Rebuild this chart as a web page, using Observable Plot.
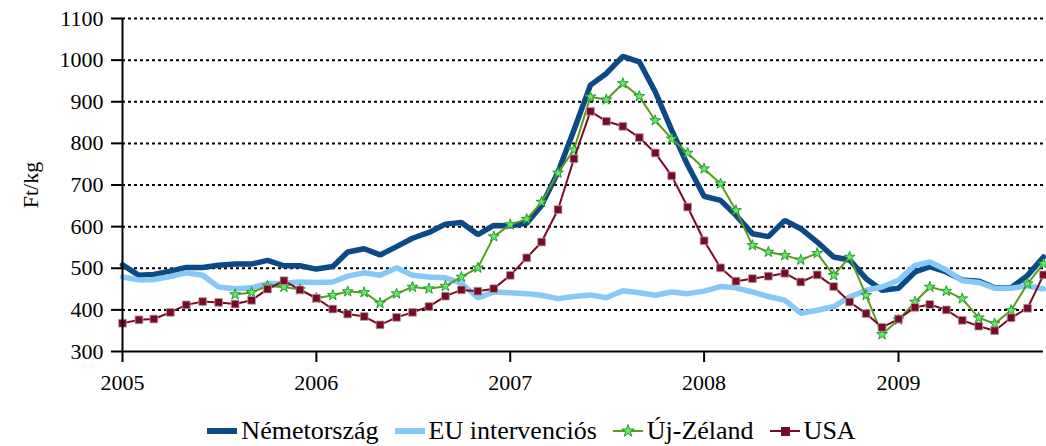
<!DOCTYPE html>
<html>
<head>
<meta charset="utf-8">
<script src="https://cdn.jsdelivr.net/npm/d3@7"></script>
<script src="https://cdn.jsdelivr.net/npm/@observablehq/plot@0.6"></script>
<style>
  html, body { margin: 0; padding: 0; background: #fff; }
  body { width: 1046px; height: 446px; overflow: hidden; font-family: "Liberation Serif", "Times New Roman", serif; }
  #chart svg, #chart svg text { font-family: "Liberation Serif", "Times New Roman", serif !important; }
  #legend { display: flex; justify-content: center; align-items: center; gap: 15px; height: 38px; font-size: 26px; padding-left: 16px; color: #000; font-family: "Liberation Serif", "Times New Roman", serif; }
  #legend .item { display: flex; align-items: center; gap: 3px; }
</style>
</head>
<body>
<div id="chart"></div>
<div id="legend"></div>
<script>
// Monthly categories: Jan 2005 – Oct 2009
const months = d3.utcMonths(new Date("2005-01-01"), new Date("2009-11-01"));
const yearTicks = ["2005", "2006", "2007", "2008", "2009"];
const yTicks = [300, 400, 500, 600, 700, 800, 900, 1000, 1100];
const seriesNames = ["Németország", "EU intervenciós", "Új-Zéland", "USA"];

const nemetorszag = [508, 483, 485, 493, 502, 502, 507, 510, 510, 519, 506, 506,
  498, 504, 539, 547, 532, 552, 572, 586, 606, 610, 581, 603,
  602, 608, 651, 731, 832, 940, 968, 1009, 996, 924, 832, 748,
  673, 663, 627, 583, 576, 615, 595, 563, 527, 520, 475, 447,
  452, 491, 504, 491, 472, 469, 453, 453, 483, 527];
const euIntervencios = [479, 472, 473, 480, 489, 483, 455, 451, 453, 463, 464, 467,
  466, 467, 481, 489, 483, 501, 483, 479, 477, 464, 429, 443,
  441, 439, 435, 427, 432, 436, 429, 446, 441, 435, 443, 439,
  445, 456, 453, 443, 432, 423, 392, 399, 408, 431, 447, 455,
  471, 507, 515, 496, 470, 466, 452, 452, 458, 450];
const ujZeland = [null, null, null, null, null, null, null, 437, 442, 457, 455, 449,
  428, 435, 444, 442, 416, 439, 455, 451, 457, 479, 501, 576,
  605, 618, 659, 729, 785, 912, 905, 944, 913, 855, 811, 777,
  739, 703, 639, 555, 539, 531, 520, 536, 483, 527, 435, 341,
  376, 419, 455, 445, 427, 381, 367, 399, 463, 511];
const usa = [368, 376, 378, 394, 412, 420, 418, 414, 423, 450, 470, 448,
  428, 402, 390, 384, 364, 382, 394, 408, 433, 448, 445, 451,
  483, 525, 563, 641, 763, 877, 853, 841, 814, 777, 722, 647,
  566, 501, 469, 475, 481, 488, 467, 484, 456, 419, 391, 358,
  378, 406, 413, 400, 375, 361, 350, 381, 404, 484];

const colors = {
  de: "#0b4a86",
  eu: "#86c8f6",
  nzLine: "#5c9c1c",
  nzFill: "#6fe36f",
  nzStroke: "#1e9e2a",
  us: "#7a0b26"
};

const toRows = (vals) => months.map((d, i) => ({date: d, value: vals[i]})).filter(r => r.value != null);
const deRows = toRows(nemetorszag);
const euRows = toRows(euIntervencios);
const nzRows = toRows(ujZeland);
const usRows = toRows(usa);

const font = "'Liberation Serif', 'Times New Roman', serif";
const x0 = new Date("2005-01-01");
const x1 = new Date("2009-10-01");

const chart = Plot.plot({
  width: 1046,
  height: 412,
  marginTop: 18,
  marginBottom: 61,
  marginLeft: 122,
  marginRight: 3,
  style: {fontFamily: font, background: "#fff", color: "#000"},
  x: {type: "utc", domain: [x0, x1]},
  y: {domain: [300, 1100]},
  marks: [
    Plot.gridY(yTicks.filter(t => t > 300), {stroke: "#000", strokeOpacity: 1, strokeWidth: 2, strokeDasharray: "3,3"}),
    Plot.line(deRows, {x: "date", y: "value", stroke: colors.de, strokeWidth: 5.5, strokeLinejoin: "miter"}),
    Plot.line(euRows, {x: "date", y: "value", stroke: colors.eu, strokeWidth: 5.5, strokeLinejoin: "miter"}),
    Plot.line(nzRows, {x: "date", y: "value", stroke: colors.nzLine, strokeWidth: 2}),
    Plot.dot(nzRows, {x: "date", y: "value", symbol: "star", r: 3.4, fill: colors.nzFill, stroke: colors.nzStroke, strokeWidth: 1}),
    Plot.line(usRows, {x: "date", y: "value", stroke: colors.us, strokeWidth: 2}),
    Plot.dot(usRows, {x: "date", y: "value", symbol: "square", r: 4.4, fill: colors.us, stroke: "#b8a0a6", strokeWidth: 0.8}),
    Plot.ruleY([300], {stroke: "#000", strokeWidth: 2}),
    Plot.ruleX([x0], {stroke: "#000", strokeWidth: 2}),
    Plot.axisY({ticks: yTicks, tickFormat: d => String(d), tickSize: 11, tickPadding: 8, fontSize: 22, strokeWidth: 2,
      label: "Ft/kg", labelAnchor: "center", labelArrow: "none", labelOffset: 100}),
    Plot.axisX({ticks: yearTicks.map(y => new Date(y + "-01-01")), tickFormat: d3.utcFormat("%Y"),
      tickSize: 11, tickPadding: 12, fontSize: 22, strokeWidth: 2, label: null})
  ]
});
document.getElementById("chart").appendChild(chart);

// Legend
const legend = document.getElementById("legend");
const swatch = (kind) => {
  const ns = "http://www.w3.org/2000/svg";
  const s = document.createElementNS(ns, "svg");
  s.setAttribute("width", 32); s.setAttribute("height", 20);
  const ln = document.createElementNS(ns, "line");
  ln.setAttribute("x1", 1); ln.setAttribute("x2", 31); ln.setAttribute("y1", 10); ln.setAttribute("y2", 10);
  if (kind === 0) { ln.setAttribute("stroke", colors.de); ln.setAttribute("stroke-width", 6); }
  if (kind === 1) { ln.setAttribute("stroke", colors.eu); ln.setAttribute("stroke-width", 6); }
  if (kind === 2) { ln.setAttribute("stroke", colors.nzLine); ln.setAttribute("stroke-width", 2); }
  if (kind === 3) { ln.setAttribute("stroke", colors.us); ln.setAttribute("stroke-width", 2); }
  s.appendChild(ln);
  if (kind === 2) {
    const p = document.createElementNS(ns, "path");
    p.setAttribute("d", d3.symbol(d3.symbolStar, Math.PI * 3.4 * 3.4 * 1.3)());
    p.setAttribute("transform", "translate(16,10)");
    p.setAttribute("fill", colors.nzFill); p.setAttribute("stroke", colors.nzStroke);
    s.appendChild(p);
  }
  if (kind === 3) {
    const r = document.createElementNS(ns, "rect");
    r.setAttribute("x", 12); r.setAttribute("y", 6); r.setAttribute("width", 9); r.setAttribute("height", 9);
    r.setAttribute("fill", colors.us);
    s.appendChild(r);
  }
  return s;
};
seriesNames.forEach((name, i) => {
  const it = document.createElement("div");
  it.className = "item";
  it.appendChild(swatch(i));
  const t = document.createElement("span");
  t.textContent = name;
  it.appendChild(t);
  legend.appendChild(it);
});
</script>
</body>
</html>
